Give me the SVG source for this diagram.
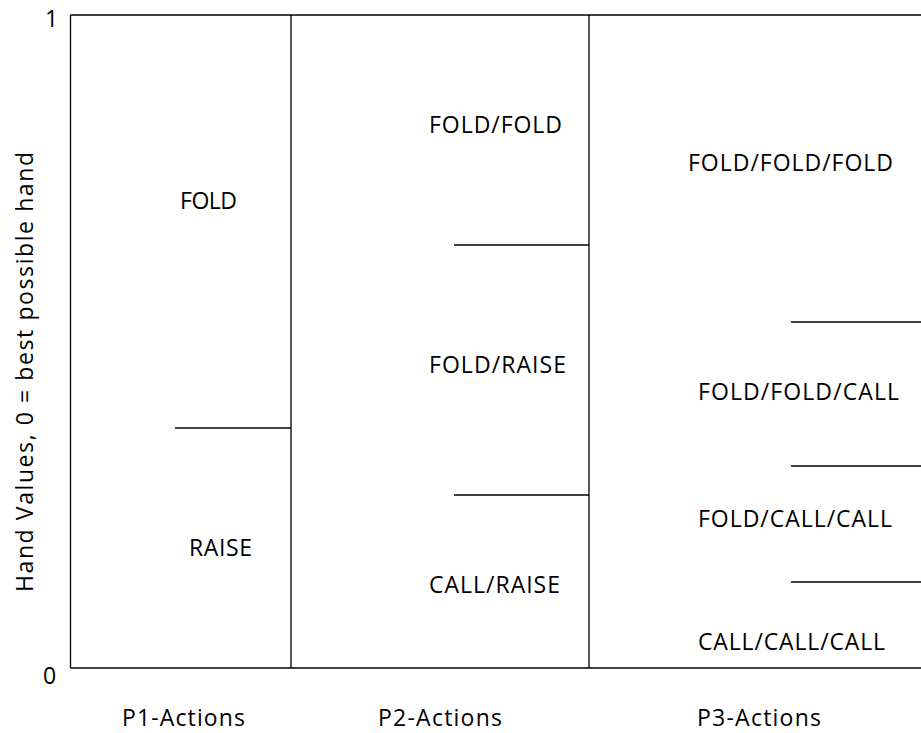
<svg xmlns="http://www.w3.org/2000/svg" width="921" height="733" viewBox="0 0 921 733">
<style>
.ln{stroke:#000;stroke-width:1.3;fill:none}
.t{font-family:"Open Sans","Liberation Sans",sans-serif;font-size:23px;fill:#000}
</style>
<rect x="0" y="0" width="921" height="733" fill="#fff"/>
<g id="axes">
<line class="ln" x1="70.5" y1="15" x2="921" y2="15"/>
<line class="ln" x1="70.5" y1="15" x2="70.5" y2="668"/>
<line class="ln" x1="70.5" y1="668" x2="921" y2="668"/>
<line class="ln" x1="291" y1="15" x2="291" y2="668"/>
<line class="ln" x1="589" y1="15" x2="589" y2="668"/>
<text class="t" x="45" y="27">1</text>
<text class="t" x="43" y="684">0</text>
<text class="t" x="122" y="726" textLength="123">P1-Actions</text>
<text class="t" x="378" y="726" textLength="124">P2-Actions</text>
<text class="t" x="697" y="726" textLength="124">P3-Actions</text>
<text class="t" transform="translate(33,372) rotate(-90)" text-anchor="middle" textLength="440">Hand Values, 0 = best possible hand</text>
</g>
<g id="connectors">
<line class="ln" x1="175" y1="428" x2="291" y2="428"/>
<line class="ln" x1="454" y1="245" x2="589" y2="245"/>
<line class="ln" x1="454" y1="495" x2="589" y2="495"/>
<line class="ln" x1="791" y1="322" x2="921" y2="322"/>
<line class="ln" x1="791" y1="466" x2="921" y2="466"/>
<line class="ln" x1="791" y1="582" x2="921" y2="582"/>
</g>
<g id="p1-fold"><text class="t" x="180" y="209" textLength="57">FOLD</text></g>
<g id="p1-raise"><text class="t" x="189" y="556" textLength="63">RAISE</text></g>
<g id="p2-fold-fold"><text class="t" x="429" y="133" textLength="133">FOLD/FOLD</text></g>
<g id="p2-fold-raise"><text class="t" x="429" y="373" textLength="137">FOLD/RAISE</text></g>
<g id="p2-call-raise"><text class="t" x="429" y="593" textLength="131">CALL/RAISE</text></g>
<g id="p3-fold-fold-fold"><text class="t" x="688" y="171" textLength="205">FOLD/FOLD/FOLD</text></g>
<g id="p3-fold-fold-call"><text class="t" x="698" y="400" textLength="201">FOLD/FOLD/CALL</text></g>
<g id="p3-fold-call-call"><text class="t" x="698" y="527" textLength="194">FOLD/CALL/CALL</text></g>
<g id="p3-call-call-call"><text class="t" x="698" y="650" textLength="187">CALL/CALL/CALL</text></g>
</svg>
